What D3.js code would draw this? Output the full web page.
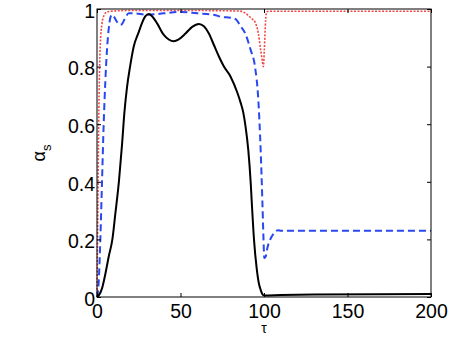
<!DOCTYPE html>
<meta charset="utf-8">
<style>
body { margin: 0; background: #fff; }
text { font-family: "Liberation Sans", Arial, sans-serif; }
.axis path, .axis line { stroke: #000; }
</style>
<body>
<script src="https://d3js.org/d3.v7.min.js"></script>
<script>
// series: [tau, alpha_s]
var blackSolid = [[0,0],[1,0.005],[3,0.03],[5,0.08],[7,0.14],[9.2,0.2],[11,0.29],[13.2,0.406],[15,0.53],[16.4,0.64],[18,0.73],[19.8,0.8],[22,0.87],[24.8,0.917],[27,0.952],[29,0.975],[31,0.983],[33,0.975],[36,0.95],[40,0.91],[43,0.894],[46,0.888],[49,0.895],[53,0.915],[57,0.938],[61,0.948],[64,0.94],[67,0.915],[70,0.875],[73,0.835],[76,0.8],[80,0.765],[84,0.71],[86,0.675],[87.6,0.64],[89,0.59],[90.6,0.51],[92,0.4],[92.6,0.337],[94,0.2],[95.6,0.1],[97,0.045],[98,0.025],[99,0.01],[100,0.005],[110,0.007],[130,0.009],[200,0.01]];
var blueDashed = [[0,0],[1,0.05],[2,0.2],[3,0.4],[4,0.6],[5,0.75],[6,0.86],[7,0.93],[8,0.97],[9,0.98],[10,0.975],[12,0.955],[14,0.945],[15,0.948],[17,0.97],[19,0.985],[22,0.985],[30,0.98],[40,0.985],[50,0.99],[60,0.985],[70,0.98],[75,0.972],[80,0.97],[83,0.965],[86,0.94],[88.6,0.917],[92,0.858],[94.6,0.8],[96.6,0.684],[98,0.51],[99,0.337],[99.6,0.22],[100.2,0.135],[101,0.14],[102,0.17],[103.6,0.198],[106,0.222],[108.6,0.232],[110,0.23],[200,0.23]];
var redDotted = [[0,0],[0.5,0.3],[1,0.6],[1.5,0.78],[2,0.88],[3,0.95],[4,0.975],[6,0.99],[10,0.993],[20,0.995],[50,0.995],[85,0.993],[89,0.985],[91,0.975],[93,0.965],[94.6,0.955],[96.6,0.916],[98,0.858],[99,0.82],[99.6,0.8],[100.2,0.858],[101,0.962],[101.6,0.99],[103,0.992],[200,0.992]];
var xTicks = [0, 50, 100, 150, 200];
var yTicks = [0, 0.2, 0.4, 0.6, 0.8, 1];

var W = 463, H = 338;
var margin = {top: 9, right: 32, bottom: 41, left: 97};
var w = W - margin.left - margin.right, h = H - margin.top - margin.bottom;

var svg = d3.select("body").append("svg").attr("width", W).attr("height", H);
var g = svg.append("g").attr("transform", "translate(" + margin.left + "," + margin.top + ")");

var x = d3.scaleLinear().domain([0, 200]).range([0, w]);
var y = d3.scaleLinear().domain([0, 1]).range([h, 0]);

var line = d3.line().x(d => x(d[0])).y(d => y(d[1])).curve(d3.curveMonotoneX);

g.append("path").datum(redDotted).attr("d", line)
	.attr("fill", "none").attr("stroke", "#f02828").attr("stroke-opacity", 0.85)
	.attr("stroke-width", 1.6).attr("stroke-dasharray", "2,1.5");
g.append("path").datum(blueDashed).attr("d", line)
	.attr("fill", "none").attr("stroke", "#2848f0")
	.attr("stroke-width", 2).attr("stroke-dasharray", "7,4");
g.append("path").datum(blackSolid).attr("d", line)
	.attr("fill", "none").attr("stroke", "#000").attr("stroke-width", 2);

// box with inward ticks on all sides
function styleAxis(sel, hideText) {
	sel.attr("class", "axis").select(".domain").remove();
	sel.selectAll("text").style("font-size", "19.5px").attr("fill", "#000");
	if (hideText) sel.selectAll("text").remove();
}
g.append("g").attr("transform", "translate(0," + h + ")")
	.call(d3.axisBottom(x).tickValues(xTicks).tickSizeInner(-4).tickSizeOuter(0).tickPadding(7))
	.call(s => styleAxis(s, false));
g.append("g")
	.call(d3.axisTop(x).tickValues(xTicks).tickSizeInner(-4).tickSizeOuter(0))
	.call(s => styleAxis(s, true));
g.append("g")
	.call(d3.axisLeft(y).tickValues(yTicks).tickFormat(d3.format("")).tickSizeInner(-4).tickSizeOuter(0).tickPadding(2))
	.call(s => styleAxis(s, false))
	.call(s => s.selectAll("text").attr("dy", "0.42em"));
g.append("g").attr("transform", "translate(" + w + ",0)")
	.call(d3.axisRight(y).tickValues(yTicks).tickSizeInner(-4).tickSizeOuter(0))
	.call(s => styleAxis(s, true));

g.append("rect").attr("width", w).attr("height", h)
	.attr("fill", "none").attr("stroke", "#000").attr("stroke-width", 1);

// axis labels
g.append("text").attr("x", w / 2).attr("y", h + 36).attr("text-anchor", "middle")
	.style("font-size", "14px").text("τ");
var yl = g.append("text").attr("transform", "translate(-52," + (h / 2) + ") rotate(-90)")
	.attr("text-anchor", "middle").style("font-size", "18px");
yl.append("tspan").text("α");
yl.append("tspan").attr("dy", 6).style("font-size", "13px").text("s");
</script>
</body>
</html>
